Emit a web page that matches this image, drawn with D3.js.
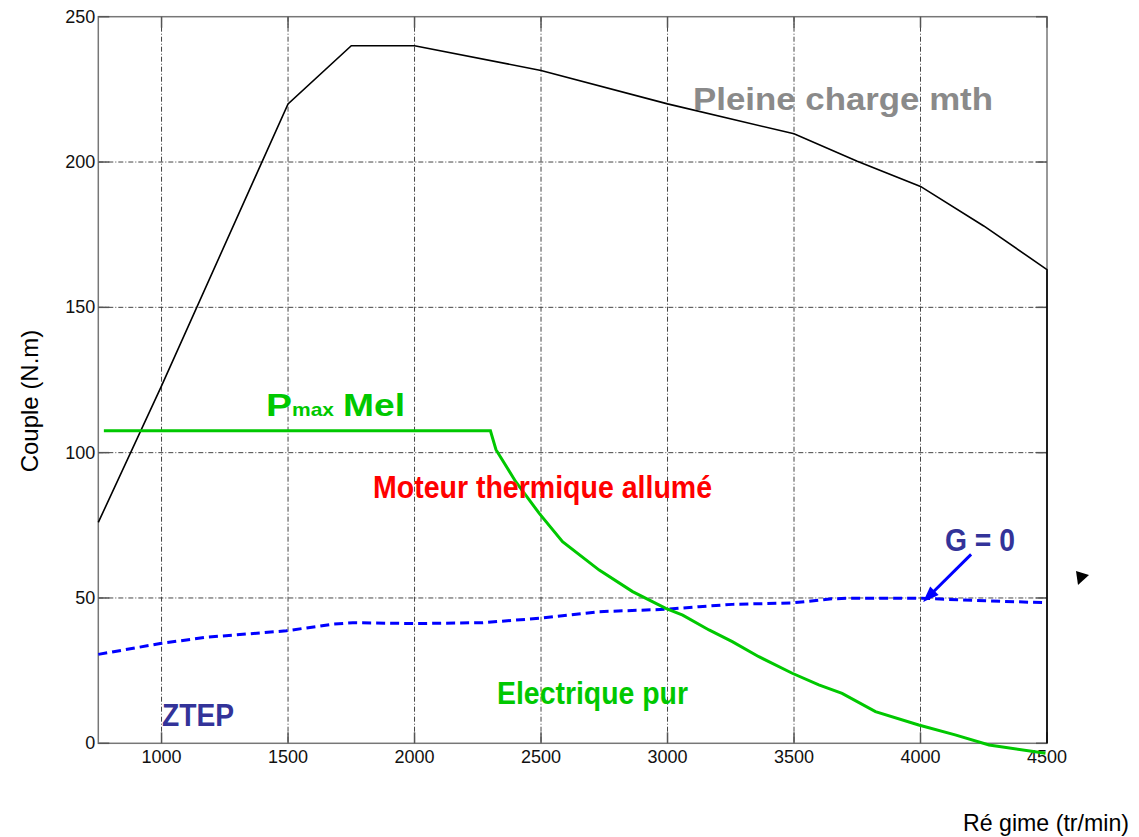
<!DOCTYPE html>
<html>
<head>
<meta charset="utf-8">
<script src="https://cdn.jsdelivr.net/npm/d3@7"></script>
<style>
  body { margin: 0; background: #fff; }
  svg text { font-family: "Liberation Sans", Arial, sans-serif; }
</style>
</head>
<body>
<svg id="chart" width="1139" height="837"></svg>
<script>
// tick values
const xTicks = [1000, 1500, 2000, 2500, 3000, 3500, 4000, 4500];
const yTicks = [0, 50, 100, 150, 200, 250];

// full load curve of the thermal engine (black)
const fullLoadRpm    = [750, 1000, 1500, 1750, 2000, 2500, 3000, 3500, 3750, 4000, 4250, 4500, 4500];
const fullLoadTorque = [76, 123, 220, 240, 240, 231.5, 220, 209.7, 200.3, 191.6, 178, 163, 0];

// Pmax electric motor (green)
const pmaxRpm    = [772, 2300, 2322, 2400, 2493, 2585, 2730, 2862, 2993, 3060, 3164, 3256, 3361, 3493, 3598, 3690, 3822, 3993, 4137, 4271, 4494];
const pmaxTorque = [107.5, 107.5, 101, 90, 79.1, 69.4, 59.6, 52.2, 46.4, 44.1, 39, 35, 29.8, 24.1, 20.1, 17.2, 10.9, 6.3, 2.9, -0.6, -3.4];

// G = 0 line (blue dashed)
const g0Rpm    = [750, 1000, 1178, 1493, 1677, 1756, 2000, 2269, 2493, 2730, 2993, 3125, 3256, 3493, 3650, 3716, 4006, 4111, 4374, 4493];
const g0Torque = [30.6, 34.4, 36.5, 38.7, 41, 41.5, 41.2, 41.5, 43, 45.3, 46.1, 47, 47.8, 48.3, 49.7, 49.9, 49.9, 49.5, 48.7, 48.4];

const svg = d3.select('#chart');

const x = d3.scaleLinear().domain([750, 4500]).range([98.3, 1047]);
const y = d3.scaleLinear().domain([0, 250]).range([743.3, 16.7]);

const pLeft = x(750), pRight = x(4500), pTop = y(250), pBottom = y(0);

// grid
const grid = svg.append('g')
    .attr('stroke', '#444')
    .attr('stroke-width', 1)
    .attr('stroke-dasharray', '5,2,1,2');

grid.selectAll('.vg')
    .data(xTicks.filter(d => d < 4500))
    .join('line')
    .attr('x1', d => x(d)).attr('x2', d => x(d))
    .attr('y1', pTop).attr('y2', pBottom);

grid.selectAll('.hg')
    .data(yTicks.filter(d => d > 0 && d < 250))
    .join('line')
    .attr('x1', pLeft).attr('x2', pRight)
    .attr('y1', d => y(d)).attr('y2', d => y(d));

// frame
svg.append('rect')
    .attr('x', pLeft).attr('y', pTop)
    .attr('width', pRight - pLeft).attr('height', pBottom - pTop)
    .attr('fill', 'none')
    .attr('stroke', '#777')
    .attr('stroke-width', 1.5);

// inward ticks (matlab style)
const tickLen = 11;
const ticks = svg.append('g').attr('stroke', '#555').attr('stroke-width', 1.5);
yTicks.forEach(function (d) {
    ticks.append('line').attr('x1', pLeft).attr('x2', pLeft + tickLen).attr('y1', y(d)).attr('y2', y(d));
    ticks.append('line').attr('x1', pRight).attr('x2', pRight - tickLen).attr('y1', y(d)).attr('y2', y(d));
});
xTicks.forEach(function (d) {
    ticks.append('line').attr('x1', x(d)).attr('x2', x(d)).attr('y1', pBottom).attr('y2', pBottom - tickLen);
    ticks.append('line').attr('x1', x(d)).attr('x2', x(d)).attr('y1', pTop).attr('y2', pTop + tickLen);
});

// tick labels
svg.append('g').selectAll('text')
    .data(yTicks)
    .join('text')
    .attr('x', pLeft - 3)
    .attr('y', d => y(d) + 6)
    .attr('text-anchor', 'end')
    .attr('font-size', 18)
    .attr('fill', '#111')
    .text(d => d);

svg.append('g').selectAll('text')
    .data(xTicks)
    .join('text')
    .attr('x', d => x(d))
    .attr('y', pBottom + 20)
    .attr('text-anchor', 'middle')
    .attr('font-size', 18)
    .attr('fill', '#111')
    .text(d => d);

// axis titles
svg.append('text')
    .attr('transform', 'translate(38,401) rotate(-90)')
    .attr('text-anchor', 'middle')
    .attr('font-size', 24)
    .attr('fill', '#000')
    .text('Couple (N.m)');

svg.append('text')
    .attr('x', 963)
    .attr('y', 831)
    .attr('font-size', 24)
    .attr('fill', '#000')
    .attr('textLength', 166)
    .attr('lengthAdjust', 'spacingAndGlyphs')
    .text('Ré gime (tr/min)');

const line = d3.line().x(d => x(d[0])).y(d => y(d[1]));

// curves
svg.append('path')
    .datum(d3.zip(fullLoadRpm, fullLoadTorque))
    .attr('d', line)
    .attr('fill', 'none')
    .attr('stroke', '#000')
    .attr('stroke-width', 1.6);

svg.append('path')
    .datum(d3.zip(g0Rpm, g0Torque))
    .attr('d', line)
    .attr('fill', 'none')
    .attr('stroke', '#0000ff')
    .attr('stroke-width', 3)
    .attr('stroke-dasharray', '9,5');

svg.append('path')
    .datum(d3.zip(pmaxRpm, pmaxTorque))
    .attr('d', line)
    .attr('fill', 'none')
    .attr('stroke', '#00c800')
    .attr('stroke-width', 3);

// annotations
function label(txt, px, py, size, width, color) {
    return svg.append('text')
        .attr('x', px).attr('y', py)
        .attr('font-size', size)
        .attr('font-weight', 'bold')
        .attr('fill', color)
        .attr('textLength', width)
        .attr('lengthAdjust', 'spacingAndGlyphs')
        .text(txt);
}

label('Pleine charge mth', 693, 110, 31, 300, '#8a8a8a');
label('P', 266, 416, 32, 26, '#00c800');
label('max', 292, 416, 19, 42, '#00c800');
label('Mel', 343, 416, 32, 62, '#00c800');
label('Moteur thermique allumé', 373, 498, 31, 339, '#ff0000');
label('Electrique pur', 497, 704, 31, 191, '#00c800');
label('ZTEP', 162, 726, 31, 72, '#333399');
label('G = 0', 945, 551, 31, 70, '#333399');

// arrow pointing at the G = 0 line
const tail = [4200, 65], head = [4010, 48.6];
const hx = x(head[0]), hy = y(head[1]), tx = x(tail[0]), ty = y(tail[1]);
const ang = Math.atan2(hy - ty, hx - tx);
svg.append('line')
    .attr('x1', tx).attr('y1', ty)
    .attr('x2', hx - 10 * Math.cos(ang)).attr('y2', hy - 10 * Math.sin(ang))
    .attr('stroke', '#0000ff')
    .attr('stroke-width', 3);
const hl = 16, hw = 6;
svg.append('polygon')
    .attr('points', [
        [hx, hy],
        [hx - hl * Math.cos(ang) + hw * Math.sin(ang), hy - hl * Math.sin(ang) - hw * Math.cos(ang)],
        [hx - hl * Math.cos(ang) - hw * Math.sin(ang), hy - hl * Math.sin(ang) + hw * Math.cos(ang)]
    ].map(p => p.join(',')).join(' '))
    .attr('fill', '#0000ff');

// small cursor mark right of the plot
svg.append('polygon')
    .attr('points', '1076,571 1089,575 1078,585')
    .attr('fill', '#000');
</script>
</body>
</html>
